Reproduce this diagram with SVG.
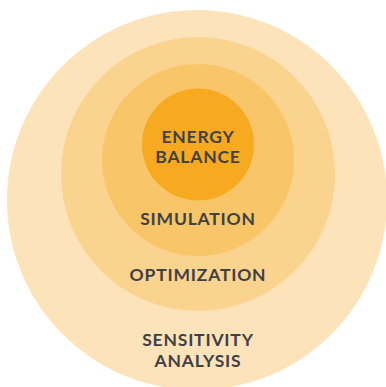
<svg xmlns="http://www.w3.org/2000/svg" width="386" height="387" viewBox="0 0 386 387">
<style>
.lbl{font-family:Lato,"Open Sans","Liberation Sans",sans-serif;font-weight:700;font-size:17.5px;fill:#404145;text-anchor:middle;letter-spacing:0.8px}
</style>
<rect width="386" height="387" fill="#ffffff"/>
<g id="sensitivity-analysis">
<circle cx="197" cy="200" r="190" fill="#FDE3B9"/>
<text class="lbl" x="198" y="346">SENSITIVITY</text>
<text class="lbl" x="198" y="367">ANALYSIS</text>
</g>
<g id="optimization">
<circle cx="198" cy="174" r="137" fill="#FAD38F"/>
<text class="lbl" x="198" y="281">OPTIMIZATION</text>
</g>
<g id="simulation">
<circle cx="198" cy="160" r="96" fill="#F9C569"/>
<text class="lbl" x="198" y="225">SIMULATION</text>
</g>
<g id="energy-balance">
<circle cx="198" cy="144.5" r="56" fill="#F7AA20"/>
<text class="lbl" x="198" y="142.5">ENERGY</text>
<text class="lbl" x="198" y="163">BALANCE</text>
</g>
<g id="connectors"></g>
</svg>
